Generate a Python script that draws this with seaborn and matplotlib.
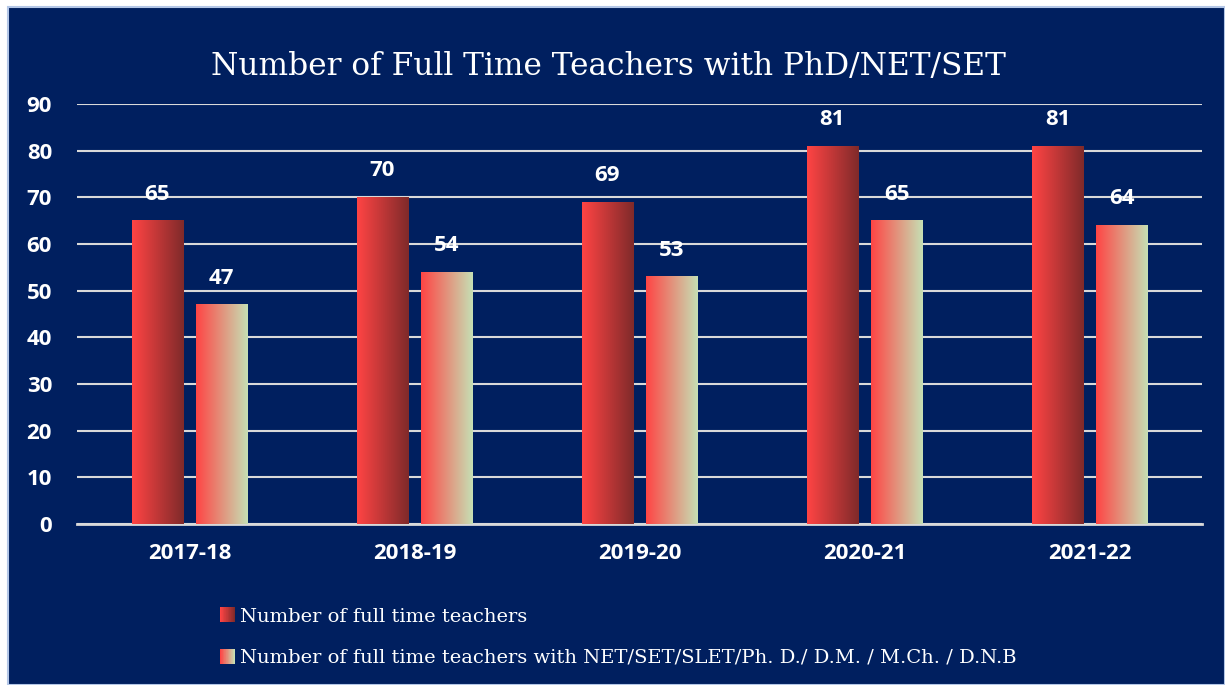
import numpy as np
import pandas as pd
import matplotlib
matplotlib.use("Agg")
import matplotlib.pyplot as plt
import seaborn as sns
from matplotlib.colors import LinearSegmentedColormap
from matplotlib.patches import Rectangle
from matplotlib.legend_handler import HandlerBase

years = ["2017-18", "2018-19", "2019-20", "2020-21", "2021-22"]
full_time = [65, 70, 69, 81, 81]
qualified = [47, 54, 53, 65, 64]
series_names = ["Number of full time teachers",
                "Number of full time teachers with NET/SET/SLET/Ph. D./ D.M. / M.Ch. / D.N.B"]

df = pd.DataFrame({
    "year": years * 2,
    "value": full_time + qualified,
    "series": [series_names[0]] * len(years) + [series_names[1]] * len(years),
})

navy = "#001F5F"
cmaps = [LinearSegmentedColormap.from_list("c1", ["#FF4444", "#7F2A2A"]),
         LinearSegmentedColormap.from_list("c2", ["#FF4444", "#C6E0B4"])]

sns.set_style("white")
fig = plt.figure(figsize=(12.25, 6.85), dpi=100, facecolor="white")
fig.patches.append(Rectangle((8 / 1225, 0), 1 - 8 / 1225, 1 - 7 / 685, transform=fig.transFigure,
                             facecolor=navy, edgecolor="#B4C7E7", lw=1.5, zorder=-10))
ax = fig.add_axes([77 / 1225, 1 - 524 / 685, 1125 / 1225, 420 / 685])
ax.set_facecolor(navy)
ax.patch.set_alpha(0)

sns.barplot(data=df, x="year", y="value", hue="series", hue_order=series_names,
            width=0.57, gap=0.2, ax=ax, legend=False, palette=["#FF4444", "#FF4444"])

# replace flat bars with horizontal gradients
grad = np.linspace(0, 1, 256).reshape(1, -1)
for i, cont in enumerate(ax.containers):
    for bar, val in zip(cont, cont.datavalues):
        x0, y0 = bar.get_x(), bar.get_y()
        w, h = bar.get_width(), bar.get_height()
        bar.set_visible(False)
        ax.imshow(grad, cmap=cmaps[i], aspect="auto", extent=(x0, x0 + w, y0, y0 + h), zorder=3)
        ax.text(x0 + w / 2, val + 5.7, f"{val:g}", ha="center", va="center", color="white",
                fontsize=16, fontweight="bold", family="Open Sans", zorder=4)

ax.set_xlim(-0.5, len(years) - 0.5)
ax.set_ylim(0, 90)
ax.set_yticks(range(0, 91, 10))
ax.grid(axis="y", color="#D9D9D9", lw=1.5, zorder=0)
ax.set_axisbelow(True)
for s in ["top", "right", "left"]:
    ax.spines[s].set_visible(False)
ax.spines["bottom"].set_color("#D9D9D9")
ax.spines["bottom"].set_linewidth(2)
ax.tick_params(axis="both", length=0, colors="white")
ax.tick_params(axis="y", pad=18)
ax.tick_params(axis="x", pad=14)
for lab in ax.get_xticklabels() + ax.get_yticklabels():
    lab.set_fontfamily("Open Sans")
    lab.set_fontweight("bold")
    lab.set_fontsize(16)
    lab.set_color("white")
ax.set_xlabel("")
ax.set_ylabel("")

fig.text(0.497, 1 - 66 / 685, "Number of Full Time Teachers with PhD/NET/SET", ha="center", va="center",
         color="white", fontsize=22.5, family="DejaVu Serif")


class GradientHandler(HandlerBase):
    def __init__(self, cmap):
        super().__init__()
        self.cmap = cmap

    def create_artists(self, legend, orig_handle, xdescent, ydescent, width, height, fontsize, trans):
        n = 24
        size = height * 1.1
        x0 = -xdescent + width - size
        arts = []
        for k in range(n):
            arts.append(Rectangle((x0 + k * size / n, -ydescent + (height - size) / 2), size / n + 0.3, size,
                                  facecolor=self.cmap(k / (n - 1)), edgecolor="none", transform=trans))
        return arts


handles = [Rectangle((0, 0), 1, 1), Rectangle((0, 0), 1, 1)]
leg = fig.legend(handles, series_names, loc="upper left", bbox_to_anchor=(200 / 1225, 1 - 590 / 685),
                 frameon=False, handler_map={handles[0]: GradientHandler(cmaps[0]),
                                             handles[1]: GradientHandler(cmaps[1])},
                 handlelength=0.9, handletextpad=0.25, labelspacing=1.2,
                 prop={"family": "DejaVu Serif", "size": 14})
for t in leg.get_texts():
    t.set_color("white")

fig.savefig("out.png", dpi=100, facecolor="white")
